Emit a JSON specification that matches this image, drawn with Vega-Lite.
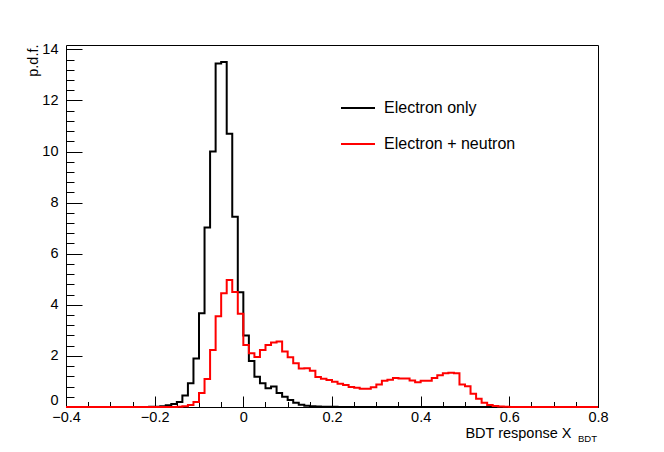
{
  "$schema": "https://vega.github.io/schema/vega-lite/v6.json",
  "width": 532,
  "height": 362,
  "autosize": {"type": "none"},
  "padding": {"left": 66, "top": 45, "right": 66, "bottom": 45},
  "background": "white",
  "config": {
    "font": "Liberation Sans",
    "view": {"stroke": "black", "strokeWidth": 1},
    "axis": {"domain": false, "grid": false, "tickColor": "black", "tickWidth": 1, "labelColor": "black", "titleColor": "black", "labelFontSize": 14.5, "titleFontSize": 14.5, "titleFontWeight": "normal", "labelFlush": false}
  },
  "datasets": {
    "hist": [
      {"x": -0.4, "Electron only": 0, "Electron + neutron": 0},
      {"x": -0.3875, "Electron only": 0, "Electron + neutron": 0},
      {"x": -0.375, "Electron only": 0, "Electron + neutron": 0},
      {"x": -0.3625, "Electron only": 0, "Electron + neutron": 0},
      {"x": -0.35, "Electron only": 0, "Electron + neutron": 0},
      {"x": -0.3375, "Electron only": 0, "Electron + neutron": 0},
      {"x": -0.325, "Electron only": 0, "Electron + neutron": 0},
      {"x": -0.3125, "Electron only": 0, "Electron + neutron": 0},
      {"x": -0.3, "Electron only": 0, "Electron + neutron": 0},
      {"x": -0.2875, "Electron only": 0, "Electron + neutron": 0},
      {"x": -0.275, "Electron only": 0, "Electron + neutron": 0},
      {"x": -0.2625, "Electron only": 0, "Electron + neutron": 0},
      {"x": -0.25, "Electron only": 0, "Electron + neutron": 0},
      {"x": -0.2375, "Electron only": 0, "Electron + neutron": 0},
      {"x": -0.225, "Electron only": 0, "Electron + neutron": 0},
      {"x": -0.2125, "Electron only": 0.005, "Electron + neutron": 0},
      {"x": -0.2, "Electron only": 0.01, "Electron + neutron": 0},
      {"x": -0.1875, "Electron only": 0.03, "Electron + neutron": 0},
      {"x": -0.175, "Electron only": 0.07, "Electron + neutron": 0},
      {"x": -0.1625, "Electron only": 0.12, "Electron + neutron": 0},
      {"x": -0.15, "Electron only": 0.2, "Electron + neutron": 0.01},
      {"x": -0.1375, "Electron only": 0.45, "Electron + neutron": 0.03},
      {"x": -0.125, "Electron only": 0.93, "Electron + neutron": 0.08},
      {"x": -0.1125, "Electron only": 1.9, "Electron + neutron": 0.2},
      {"x": -0.1, "Electron only": 3.67, "Electron + neutron": 0.55},
      {"x": -0.0875, "Electron only": 7.03, "Electron + neutron": 1.1},
      {"x": -0.075, "Electron only": 10.0, "Electron + neutron": 2.23},
      {"x": -0.0625, "Electron only": 13.45, "Electron + neutron": 3.55},
      {"x": -0.05, "Electron only": 13.5, "Electron + neutron": 4.45},
      {"x": -0.0375, "Electron only": 10.7, "Electron + neutron": 4.97},
      {"x": -0.025, "Electron only": 7.45, "Electron + neutron": 4.5},
      {"x": -0.0125, "Electron only": 4.49, "Electron + neutron": 3.65},
      {"x": 0, "Electron only": 2.8, "Electron + neutron": 2.43},
      {"x": 0.0125, "Electron only": 1.8, "Electron + neutron": 2.1},
      {"x": 0.025, "Electron only": 1.18, "Electron + neutron": 1.96},
      {"x": 0.0375, "Electron only": 0.93, "Electron + neutron": 2.23},
      {"x": 0.05, "Electron only": 0.73, "Electron + neutron": 2.43},
      {"x": 0.0625, "Electron only": 0.8, "Electron + neutron": 2.52},
      {"x": 0.075, "Electron only": 0.55, "Electron + neutron": 2.56},
      {"x": 0.0875, "Electron only": 0.4, "Electron + neutron": 2.17},
      {"x": 0.1, "Electron only": 0.27, "Electron + neutron": 1.95},
      {"x": 0.1125, "Electron only": 0.17, "Electron + neutron": 1.71},
      {"x": 0.125, "Electron only": 0.09, "Electron + neutron": 1.51},
      {"x": 0.1375, "Electron only": 0.05, "Electron + neutron": 1.52},
      {"x": 0.15, "Electron only": 0.03, "Electron + neutron": 1.42},
      {"x": 0.1625, "Electron only": 0.02, "Electron + neutron": 1.17},
      {"x": 0.175, "Electron only": 0.01, "Electron + neutron": 1.11},
      {"x": 0.1875, "Electron only": 0.01, "Electron + neutron": 1.06},
      {"x": 0.2, "Electron only": 0.005, "Electron + neutron": 0.99},
      {"x": 0.2125, "Electron only": 0, "Electron + neutron": 0.91},
      {"x": 0.225, "Electron only": 0, "Electron + neutron": 0.86},
      {"x": 0.2375, "Electron only": 0, "Electron + neutron": 0.78},
      {"x": 0.25, "Electron only": 0, "Electron + neutron": 0.75},
      {"x": 0.2625, "Electron only": 0, "Electron + neutron": 0.71},
      {"x": 0.275, "Electron only": 0, "Electron + neutron": 0.71},
      {"x": 0.2875, "Electron only": 0, "Electron + neutron": 0.77},
      {"x": 0.3, "Electron only": 0, "Electron + neutron": 0.88},
      {"x": 0.3125, "Electron only": 0, "Electron + neutron": 1.03},
      {"x": 0.325, "Electron only": 0, "Electron + neutron": 1.07},
      {"x": 0.3375, "Electron only": 0, "Electron + neutron": 1.14},
      {"x": 0.35, "Electron only": 0, "Electron + neutron": 1.12},
      {"x": 0.3625, "Electron only": 0, "Electron + neutron": 1.12},
      {"x": 0.375, "Electron only": 0, "Electron + neutron": 1.04},
      {"x": 0.3875, "Electron only": 0, "Electron + neutron": 0.97},
      {"x": 0.4, "Electron only": 0, "Electron + neutron": 1.03},
      {"x": 0.4125, "Electron only": 0, "Electron + neutron": 1.03},
      {"x": 0.425, "Electron only": 0, "Electron + neutron": 1.14},
      {"x": 0.4375, "Electron only": 0, "Electron + neutron": 1.24},
      {"x": 0.45, "Electron only": 0, "Electron + neutron": 1.32},
      {"x": 0.4625, "Electron only": 0, "Electron + neutron": 1.34},
      {"x": 0.475, "Electron only": 0, "Electron + neutron": 1.32},
      {"x": 0.4875, "Electron only": 0, "Electron + neutron": 0.88},
      {"x": 0.5, "Electron only": 0, "Electron + neutron": 0.81},
      {"x": 0.5125, "Electron only": 0, "Electron + neutron": 0.52},
      {"x": 0.525, "Electron only": 0, "Electron + neutron": 0.32},
      {"x": 0.5375, "Electron only": 0, "Electron + neutron": 0.17},
      {"x": 0.55, "Electron only": 0, "Electron + neutron": 0.08},
      {"x": 0.5625, "Electron only": 0, "Electron + neutron": 0.04},
      {"x": 0.575, "Electron only": 0, "Electron + neutron": 0.02},
      {"x": 0.5875, "Electron only": 0, "Electron + neutron": 0.01},
      {"x": 0.6, "Electron only": 0, "Electron + neutron": 0},
      {"x": 0.6125, "Electron only": 0, "Electron + neutron": 0},
      {"x": 0.625, "Electron only": 0, "Electron + neutron": 0},
      {"x": 0.6375, "Electron only": 0, "Electron + neutron": 0},
      {"x": 0.65, "Electron only": 0, "Electron + neutron": 0},
      {"x": 0.6625, "Electron only": 0, "Electron + neutron": 0},
      {"x": 0.675, "Electron only": 0, "Electron + neutron": 0},
      {"x": 0.6875, "Electron only": 0, "Electron + neutron": 0},
      {"x": 0.7, "Electron only": 0, "Electron + neutron": 0},
      {"x": 0.7125, "Electron only": 0, "Electron + neutron": 0},
      {"x": 0.725, "Electron only": 0, "Electron + neutron": 0},
      {"x": 0.7375, "Electron only": 0, "Electron + neutron": 0},
      {"x": 0.75, "Electron only": 0, "Electron + neutron": 0},
      {"x": 0.7625, "Electron only": 0, "Electron + neutron": 0},
      {"x": 0.775, "Electron only": 0, "Electron + neutron": 0},
      {"x": 0.7875, "Electron only": 0, "Electron + neutron": 0},
      {"x": 0.8, "Electron only": 0, "Electron + neutron": 0}
    ],
    "sub": [{"t": "BDT"}]
  },
  "layer": [
    {
      "data": {"name": "hist"},
      "transform": [
        {"fold": ["Electron only", "Electron + neutron"], "as": ["s", "v"]},
        {"filter": "datum.s === 'Electron only'"}
      ],
      "mark": {"type": "line", "interpolate": "step-after", "strokeWidth": 2},
      "encoding": {
        "x": {"field": "x", "type": "quantitative",
          "scale": {"domain": [-0.4, 0.8], "nice": false, "zero": false},
          "axis": {"orient": "bottom", "values": [-0.4, -0.2, 0, 0.2, 0.4, 0.6, 0.8], "format": "~g", "tickSize": -11, "labelPadding": 14.6, "labelBaseline": "top",
            "title": "BDT response X", "titleAlign": "right", "titleAnchor": "end", "titleBaseline": "alphabetic", "titleX": 505, "titleY": 30}},
        "y": {"field": "v", "type": "quantitative",
          "scale": {"domain": [0, 14.17], "nice": false, "zero": true},
          "axis": {"orient": "left", "values": [0, 2, 4, 6, 8, 10, 12, 14], "format": "d", "tickSize": -16, "labelPadding": 24,
            "labelBaseline": {"condition": {"test": "datum.value === 0", "value": "bottom"}, "value": "middle"},
            "title": "p.d.f.", "titleAngle": 270, "titleAlign": "right", "titleAnchor": "end", "titleBaseline": "alphabetic", "titleX": -29, "titleY": -1}},
        "color": {"field": "s", "type": "nominal",
          "scale": {"domain": ["Electron only", "Electron + neutron"], "range": ["#000000", "#ff0000"]},
          "legend": {"orient": "none", "legendX": 274, "legendY": 45, "title": null, "symbolType": "stroke", "symbolSize": 1156, "symbolStrokeWidth": 2, "labelFontSize": 16, "labelColor": "black", "labelOffset": 8, "rowPadding": 10, "padding": 0}}
      }
    },
    {
      "data": {"name": "hist"},
      "transform": [
        {"fold": ["Electron only", "Electron + neutron"], "as": ["s", "v"]},
        {"filter": "datum.s === 'Electron + neutron'"}
      ],
      "mark": {"type": "line", "interpolate": "step-after", "strokeWidth": 2},
      "encoding": {
        "x": {"field": "x", "type": "quantitative", "axis": null},
        "y": {"field": "v", "type": "quantitative", "axis": null},
        "color": {"field": "s", "type": "nominal"}
      }
    },
    {
      "data": {"name": "sub"},
      "mark": {"type": "text", "align": "right", "baseline": "alphabetic", "dx": -1, "dy": 35, "fontSize": 9.5, "color": "black"},
      "encoding": {
        "x": {"datum": 0.8, "type": "quantitative",
          "axis": {"orient": "bottom", "values": [-0.4, -0.35, -0.3, -0.25, -0.2, -0.15, -0.1, -0.05, 0, 0.05, 0.1, 0.15, 0.2, 0.25, 0.3, 0.35, 0.4, 0.45, 0.5, 0.55, 0.6, 0.65, 0.7, 0.75, 0.8], "labels": false, "tickSize": -5.5, "title": null}},
        "y": {"datum": 0, "type": "quantitative",
          "axis": {"orient": "left", "values": [0, 0.4, 0.8, 1.2, 1.6, 2, 2.4, 2.8, 3.2, 3.6, 4, 4.4, 4.8, 5.2, 5.6, 6, 6.4, 6.8, 7.2, 7.6, 8, 8.4, 8.8, 9.2, 9.6, 10, 10.4, 10.8, 11.2, 11.6, 12, 12.4, 12.8, 13.2, 13.6, 14], "labels": false, "tickSize": -8, "title": null}},
        "text": {"field": "t"}
      }
    }
  ],
  "resolve": {"axis": {"x": "independent", "y": "independent"}}
}
